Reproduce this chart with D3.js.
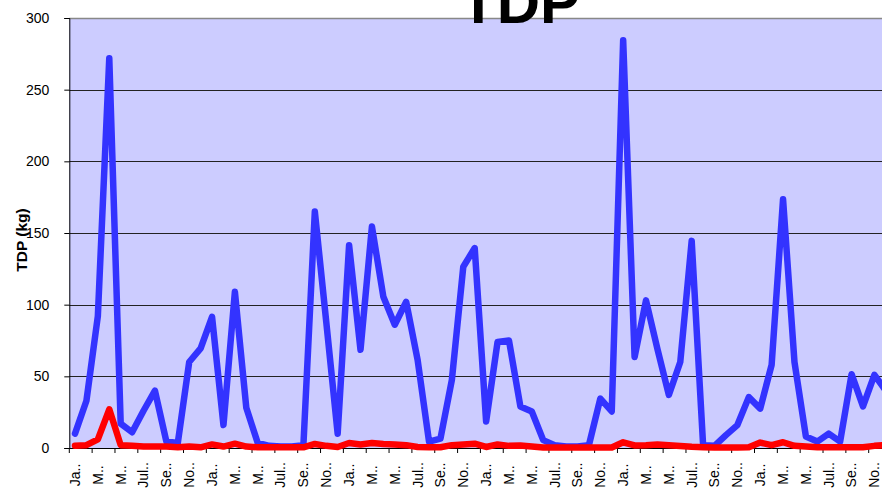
<!DOCTYPE html>
<html>
<head>
<meta charset="utf-8">
<script src="https://cdn.jsdelivr.net/npm/d3@7"></script>
<style>
  html, body { margin: 0; padding: 0; background: #fff; }
  svg { display: block; font-family: "Liberation Sans", Arial, sans-serif; }
</style>
</head>
<body>
<svg id="chart" width="882" height="489"></svg>
<script>
// Monthly TDP loads (kg), six years of observations
const monthTicks = ["Ja..", "M..", "M..", "Jul..", "Se..", "No.."];
const seriesA = [10, 33, 92, 272, 17, 11, 26, 40, 4.5, 3.5, 60, 69.5,
  91.5, 16, 109, 28, 3.5, 1.5, 1, 1, 2, 165, 88, 10,
  141.5, 68.5, 154.5, 105.5, 86, 102, 61.5, 4.5, 6.5, 47.5, 126.5, 139.5,
  18.5, 74, 75, 29, 25.5, 5.5, 2, 1, 1, 2, 34.5, 25.5,
  284.5, 63.5, 103, 69, 37, 60, 144.5, 2, 1.5, 9, 16, 35.5,
  27.5, 58, 173.5, 60, 8, 4.5, 10, 4.5, 51.5, 29, 51, 40];
const seriesB = [1.5, 2, 6, 27, 2, 1.5, 1, 1, 1, 0.5, 1, 0.5,
  2.5, 1, 3, 1, 0.5, 0.5, 0.5, 0.5, 0.5, 2.8, 1.5, 0.7,
  3.5, 2.5, 3.5, 2.8, 2.5, 2, 0.7, 0.5, 0.5, 2, 2.5, 3,
  0.7, 2.5, 1.5, 1.7, 1, 0.3, 0.3, 0.3, 0.3, 0.3, 0.3, 0.3,
  4, 1.8, 2, 2.5, 2, 1.4, 0.8, 0.5, 0.3, 0.3, 0.3, 0.5,
  3.8, 2, 4, 1.5, 1, 0.5, 0.5, 0.5, 0.5, 0.5, 1.5, 2];
const yTicks = [0, 50, 100, 150, 200, 250, 300];

const categories = d3.range(seriesA.length);
const svg = d3.select("#chart");

const plot = { left: 69.3, top: 18, bottom: 448, step: 11.42 };
const x = d3.scaleBand()
  .domain(categories)
  .range([plot.left, plot.left + plot.step * categories.length])
  .paddingInner(0).paddingOuter(0);
const y = d3.scaleLinear().domain([0, 300]).range([plot.bottom, plot.top]);
const right = x.range()[1];

// plot area
svg.append("rect")
  .attr("x", plot.left).attr("y", plot.top)
  .attr("width", right - plot.left).attr("height", plot.bottom - plot.top)
  .attr("fill", "#CCCCFF");

// horizontal gridlines
svg.append("g")
  .selectAll("line")
  .data(yTicks.filter(v => v > 0 && v < 300))
  .join("line")
  .attr("x1", plot.left).attr("x2", right)
  .attr("y1", d => Math.round(y(d)) + 0.5).attr("y2", d => Math.round(y(d)) + 0.5)
  .attr("stroke", "#222").attr("stroke-width", 1);

// top border
svg.append("line")
  .attr("x1", plot.left).attr("x2", right)
  .attr("y1", plot.top + 0.5).attr("y2", plot.top + 0.5)
  .attr("stroke", "#888").attr("stroke-width", 1.5);

// y axis
const yAxis = d3.axisLeft(y).tickValues(yTicks).tickSize(5).tickPadding(15);
const gy = svg.append("g")
  .attr("transform", `translate(${plot.left},0)`)
  .call(yAxis);
gy.select(".domain").attr("stroke", "#000");
gy.selectAll(".tick line").attr("stroke", "#000");
gy.selectAll(".tick text")
  .attr("font-size", 14).attr("fill", "#000")
  .attr("font-family", "Liberation Sans, Arial, sans-serif");

// x axis (labels every two months)
const xAxis = d3.axisBottom(x)
  .tickValues(categories.filter(i => i % 2 === 0))
  .tickSize(0)
  .tickFormat(i => monthTicks[(i / 2) % monthTicks.length]);
const gx = svg.append("g")
  .attr("transform", `translate(0,${plot.bottom})`)
  .call(xAxis);
gx.select(".domain").attr("stroke", "#000");
gx.selectAll(".tick text")
  .attr("font-size", 14).attr("fill", "#000")
  .attr("font-family", "Liberation Sans, Arial, sans-serif")
  .attr("transform", "translate(0,27) rotate(-90)")
  .attr("text-anchor", "middle")
  .attr("x", 0).attr("y", 0).attr("dy", "0.35em");

// group separators below the axis
gx.append("g")
  .selectAll("line")
  .data(categories.filter(i => i % 2 === 0).concat([categories.length]))
  .join("line")
  .attr("x1", i => plot.left + i * x.step()).attr("x2", i => plot.left + i * x.step())
  .attr("y1", 0).attr("y2", 5)
  .attr("stroke", "#000");

// series lines
const line = d3.line()
  .x((d, i) => x(i) + x.bandwidth() / 2)
  .y(d => y(d));

svg.append("path")
  .datum(seriesA)
  .attr("d", line)
  .attr("fill", "none")
  .attr("stroke", "#3333FF")
  .attr("stroke-width", 6.5)
  .attr("stroke-linejoin", "round")
  .attr("stroke-linecap", "round");

svg.append("path")
  .datum(seriesB)
  .attr("d", line)
  .attr("fill", "none")
  .attr("stroke", "#FF0000")
  .attr("stroke-width", 6.5)
  .attr("stroke-linejoin", "round")
  .attr("stroke-linecap", "round");

// axis title
svg.append("text")
  .attr("transform", "translate(22,240) rotate(-90)")
  .attr("text-anchor", "middle")
  .attr("dy", "0.35em")
  .attr("font-size", 15.5).attr("font-weight", "bold")
  .text("TDP (kg)");

// chart title
svg.append("text")
  .attr("x", 520).attr("y", 23)
  .attr("text-anchor", "middle")
  .attr("font-size", 60).attr("font-weight", "bold")
  .text("TDP");
</script>
</body>
</html>
